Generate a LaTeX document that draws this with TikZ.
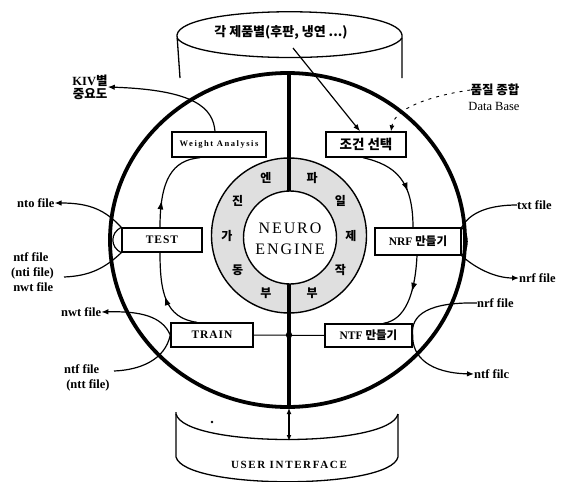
\documentclass[tikz,border=0pt]{standalone}
\usepackage{fontspec}
\setmainfont{Liberation Serif}
\newfontfamily\krfont{Noto Sans CJK KR}
\newcommand{\kor}[1]{{\krfont\bfseries #1}}
\usetikzlibrary{calc, positioning}
\usetikzlibrary{arrows.meta}
\usetikzlibrary{decorations.markings}

\begin{document}
\begin{tikzpicture}[x=1pt, y=-1pt,
  stepbox/.style={draw, line width=1.4pt, fill=white, inner sep=0pt, minimum height=24pt},
  flow/.style={line width=1.2pt},
  tip/.style={-{Latex[length=7pt, width=5.5pt]}},
  midtip/.style={postaction={decorate}, decoration={markings,
    mark=at position #1 with {\arrow{Latex[length=9pt, width=6pt]}}}},
  lbl/.style={font=\bfseries\fontsize{12.5}{15}\selectfont, inner sep=0pt, align=center},
  ringtxt/.style={font=\krfont\bfseries\fontsize{12}{12}\selectfont, inner sep=0pt},
]
\useasboundingbox (0,0) rectangle (566,482);

\def\RingR{62}

% product cylinder
\draw[line width=1.3pt] (180,78) -- (177,35) .. controls (181,4) and (398,4) .. (402,35) -- (402,78);
\draw[line width=1.3pt] (177,38) .. controls (195,64) and (385,64) .. (402,38);
\node[font=\krfont\bfseries\fontsize{13}{13}\selectfont] (prod) at (281,32) {각 제품별(후판, 냉연 ...)};
\coordinate (prodfoot) at (293,48);

% user interface cylinder
\draw[line width=1.3pt] (176,414) .. controls (185,448) and (390,448) .. (398,414);
\draw[line width=1.3pt] (176,412) -- (176,457) .. controls (185,490) and (390,490) .. (398,457) -- (398,414);
\node[font=\bfseries\fontsize{11}{11}\selectfont\addfontfeature{LetterSpace=15}] (ui) at (289,465) {USER INTERFACE};
\fill (212,422) circle (1.3);

% main loop
\draw[line width=3.8pt] (287.5,240) ellipse [x radius=177.5, y radius=167];
\coordinate (ring) at (289,235.5);
\draw[line width=1.4pt, fill=gray!25] (ring) circle (77.5);
\draw[line width=1.4pt, fill=white] (290,237.5) circle (46.5);
\node[font=\fontsize{16}{21}\selectfont\addfontfeature{LetterSpace=12}, align=center] (engine) at (290,238.5) {NEURO\\ENGINE};
\draw[line width=3.4pt] (289,73) -- (289,191);
\draw[line width=3.4pt] (289,284) -- (289,407);
\draw[line width=1.2pt, {Latex[length=6pt, width=5pt]}-{Latex[length=6pt, width=5pt]}] (289,408) -- (289,441);

\foreach \a/\t in {112/엔, 146/진, 180/가, 214/동, 248/부, 68/파, 34/일, 0/제, -34/작, -68/부}
  \node[ringtxt] at ($(ring)+({\RingR*cos(\a)},{-\RingR*sin(\a)})$) {\t};

% steps
\node[stepbox, minimum width=94pt, minimum height=25pt, font=\bfseries\fontsize{8.5}{10}\selectfont\addfontfeature{LetterSpace=18}] (weight) at (219,144.5) {Weight Analysis};
\node[stepbox, minimum width=80pt, minimum height=25pt] (cond) at (366,144.5) {\kor{\fontsize{13.5}{14}\selectfont 조건 선택}};
\node[stepbox, minimum width=80pt, font=\bfseries\fontsize{11.5}{12}\selectfont\addfontfeature{LetterSpace=8}] (test) at (162,240) {TEST};
\node[stepbox, minimum width=86pt, minimum height=27pt] (nrf) at (418,241.5) {\bfseries\fontsize{11.5}{12}\selectfont NRF \kor{만들기}};
\node[stepbox, minimum width=82pt, font=\bfseries\fontsize{11.5}{12}\selectfont\addfontfeature{LetterSpace=8}] (train) at (212,335) {TRAIN};
\node[stepbox, minimum width=87pt, minimum height=23pt] (ntf) at (368.5,335.5) {\bfseries\fontsize{11.5}{12}\selectfont NTF \kor{만들기}};

\draw[line width=1pt] (train.east) -- (ntf.west);
\fill (289,335) circle (3.2);

\draw[flow, midtip=0.5] ([xshift=-15pt]train.north) .. controls (165,318) and (160,292) .. ([xshift=-2pt]test.south);
\draw[flow, midtip=0.3] ([xshift=-2pt]test.north) .. controls (160,180) and (172,160) .. ([xshift=-19pt]weight.south);
\draw[flow, midtip=0.62] ([xshift=-3pt]cond.south) .. controls (395,165) and (413,180) .. ([xshift=-5pt]nrf.north);
\draw[flow, midtip=0.45] ([xshift=-1pt]nrf.south) .. controls (415,295) and (405,320) .. ([xshift=15pt]ntf.north);

% outputs
\node[lbl, font=\krfont\bfseries\fontsize{12.5}{13}\selectfont] (kiv) at (90,87) {{\bfseries\rmfamily KIV}별\\중요도};
\draw[flow, tip] ([xshift=-4pt]weight.north) .. controls (213,108) and (195,90) .. (kiv.east);

\node[lbl, anchor=west] (nto) at (17,203) {nto file};
\node[lbl, anchor=north west, align=left] (nti) at (11,252) {\,ntf file\\(nti file)\\\,nwt file};
\coordinate (ntiend) at (64,277);
\draw[flow, tip] (test.north west) .. controls (105,210) and (90,203) .. (nto.east);
\draw[flow] (test.north west) .. controls (110,233) and (110,247) .. (test.south west);
\draw[flow] (test.south west) .. controls (105,268) and (90,276) .. (ntiend);

\node[lbl, anchor=west] (nwt) at (61,312) {nwt file};
\node[lbl, anchor=north west, align=left] (ntt) at (64,364) {ntf file\\\,(ntt file)};
\coordinate (nttend) at (114,371);
\draw[flow, tip] (train.west) .. controls (162,316) and (140,311) .. (nwt.east);
\draw[flow] (train.west) .. controls (165,360) and (140,370) .. (nttend);

\node[lbl, anchor=west] (txt) at (517,205) {txt file};
\node[lbl, anchor=west] (nrfout) at (519,278) {nrf file};
\draw[flow] (nrf.north east) .. controls (470,212) and (490,205) .. (txt.west);
\draw[flow] (nrf.north east) .. controls (469,233) and (469,250) .. (nrf.south east);
\draw[flow, tip] (nrf.south east) .. controls (475,268) and (495,278) .. (nrfout.west);

\node[lbl, anchor=west] (nrfin) at (477,303) {nrf file};
\node[lbl, anchor=west] (ntfout) at (474,374) {ntf filc};
\draw[flow] (ntf.east) .. controls (410,314) and (430,302) .. (nrfin.west);
\draw[flow, tip] (ntf.east) .. controls (412,357) and (430,373) .. (ntfout.west);

% data base
\node[font=\krfont\bfseries\fontsize{12.5}{12}\selectfont, inner sep=0pt] (dbk) at (495,90) {품질 종합};
\node[font=\fontsize{12.5}{12}\selectfont, inner sep=0pt] (dbe) at (494,106) {Data Base};
\draw[line width=0.9pt, dash pattern=on 3pt off 5pt, -{Latex[length=6pt, width=5pt]}] (dbk.west) .. controls (430,96) and (395,108) .. ([xshift=25pt]cond.north);

\draw[flow, tip] (prodfoot) -- ([xshift=-6pt]cond.north);
\end{tikzpicture}
\end{document}
